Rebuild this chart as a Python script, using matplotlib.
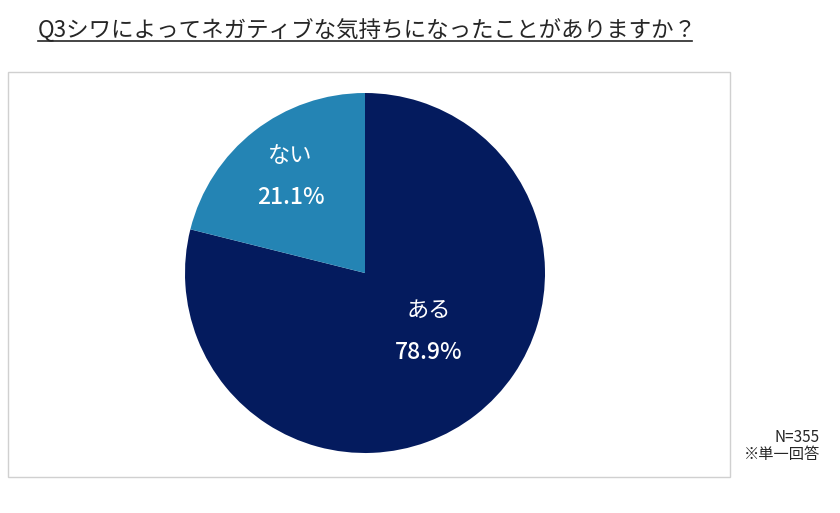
import matplotlib
matplotlib.use("Agg")
import matplotlib.pyplot as plt
from matplotlib.patches import Rectangle
from matplotlib.lines import Line2D

plt.rcParams['font.family'] = ['Noto Sans CJK JP', 'DejaVu Sans']

categories = ["ある", "ない"]
values = [78.9, 21.1]
colors = ["#041B5E", "#2484B4"]
title = "Q3シワによってネガティブな気持ちになったことがありますか？"
note_lines = ["N=355", "※単一回答"]

W, H = 840, 513
fig = plt.figure(figsize=(W / 100, H / 100), dpi=100)

# frame box
fig.patches.append(Rectangle((8 / W, 1 - 477 / H), (730 - 8) / W, (477 - 72) / H,
                             transform=fig.transFigure, fill=False,
                             edgecolor="#D0D0D0", linewidth=1.0))

# title with underline
t = fig.text(38 / W, 1 - 37 / H, title, fontsize=16.2, color="#262626",
             ha="left", va="baseline")
fig.lines.append(Line2D([38 / W, 692 / W], [1 - 41 / H, 1 - 41 / H],
                        transform=fig.transFigure, color="#262626", linewidth=1.2))

# pie
cx, cy, r = 365, 273, 180
ax = fig.add_axes([(cx - r) / W, 1 - (cy + r) / H, 2 * r / W, 2 * r / H])
wedges, texts = ax.pie(values, colors=colors, startangle=90, counterclock=False,
                       radius=1.0, wedgeprops=dict(linewidth=0))
ax.set_xlim(-1, 1)
ax.set_ylim(-1, 1)
ax.set_aspect("equal")
ax.axis("off")

label_pos = [(0.352, -0.32), (-0.413, 0.54)]
for cat, v, (x, y) in zip(categories, values, label_pos):
    ax.text(x, y + 0.11, cat, ha="center", va="center", color="white", fontsize=16)
    ax.text(x, y - 0.12, f"{v:.1f}%", ha="center", va="center", color="white",
            fontsize=16.5, fontweight="medium")

fig.text(820 / W, 1 - 437 / H, note_lines[0], ha="right", va="center",
         fontsize=11, color="#262626")
fig.text(820 / W, 1 - 455 / H, note_lines[1], ha="right", va="center",
         fontsize=11, color="#262626")

fig.savefig("out.png", dpi=100, facecolor="white")
